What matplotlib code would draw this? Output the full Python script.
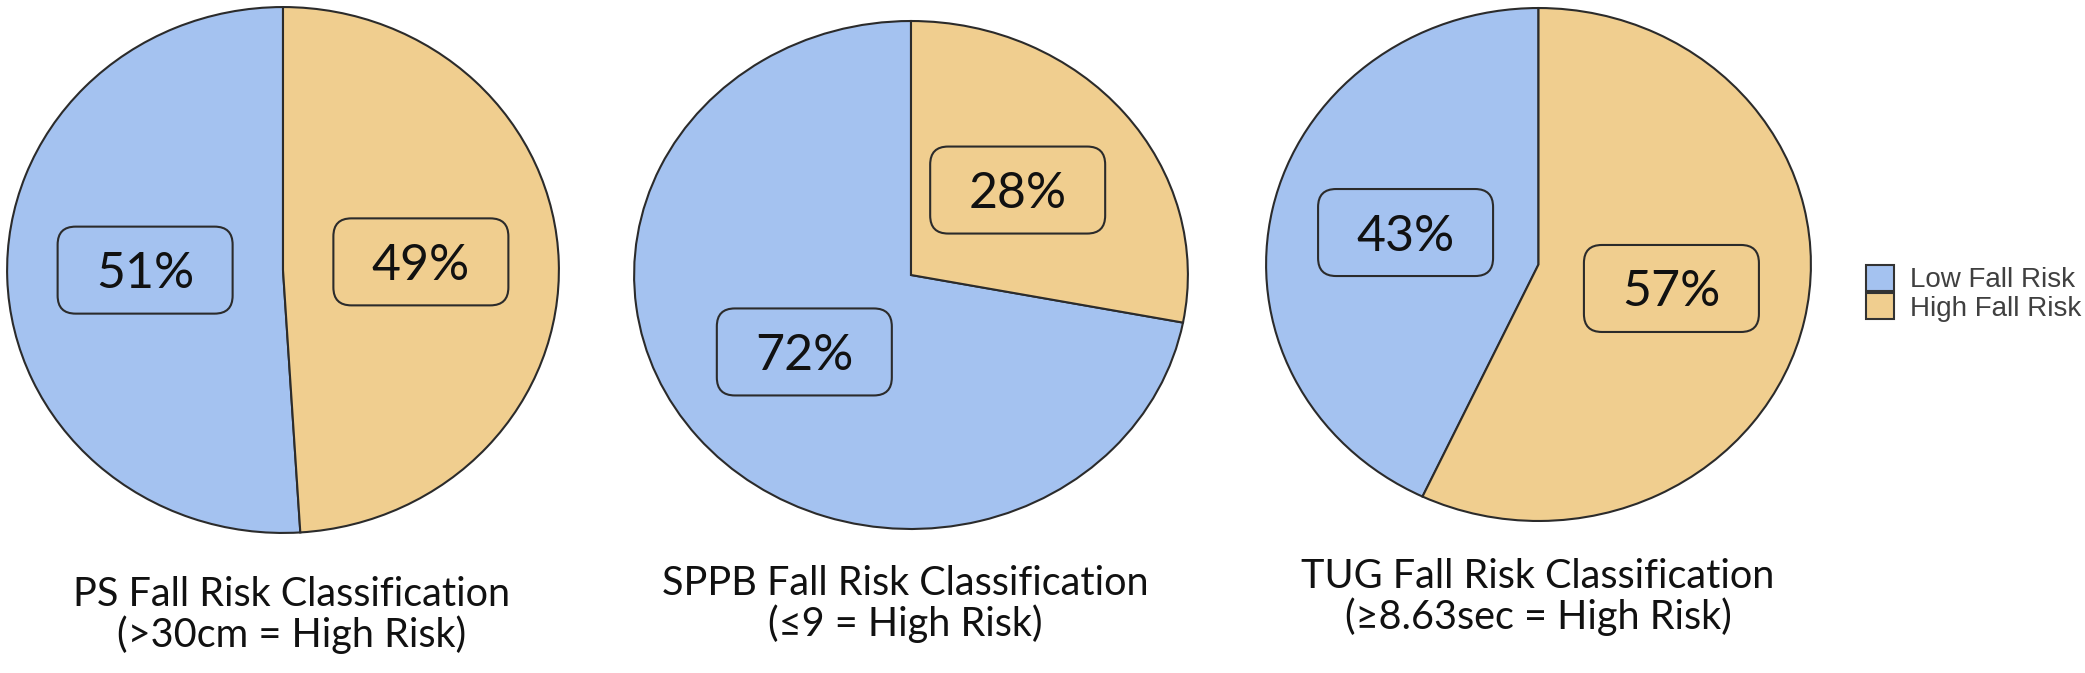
import matplotlib
matplotlib.use('Agg')
import matplotlib.pyplot as plt
from matplotlib.patches import FancyBboxPatch, Patch
from matplotlib.transforms import IdentityTransform

tests = ['PS', 'SPPB', 'TUG']
criteria = ['>30cm', '≤9', '≥8.63sec']
low_risk = [51, 72, 43]
high_risk = [49, 28, 57]
legend_labels = ['Low Fall Risk', 'High Fall Risk']

colors = ['#A4C2F0', '#F0CE8F']
edge = '#2b2b2b'
W, H = 2085, 673
fig = plt.figure(figsize=(W / 100, H / 100), dpi=100)

# pie bounding boxes in pixels (x0, y0, x1, y1), y measured from top
boxes = [(6, 6, 560, 534), (633, 20, 1189, 530), (1265, 7, 1812, 522)]
title_pos = [(292, 615), (905, 604), (1538, 597)]
fam = ['Lato', 'DejaVu Sans']

for i in range(3):
    x0, y0, x1, y1 = boxes[i]
    ax = fig.add_axes([x0 / W, 1 - y1 / H, (x1 - x0) / W, (y1 - y0) / H])
    wedges, texts, autotexts = ax.pie(
        [low_risk[i], high_risk[i]], colors=colors, startangle=90,
        autopct=lambda p: f'{p:.0f}%', pctdistance=0.5,
        wedgeprops=dict(edgecolor=edge, linewidth=1.5),
        textprops=dict(fontsize=36, family=fam, color='#111111'))
    ax.set_aspect('auto')
    ax.set_xlim(-1.004, 1.004)
    ax.set_ylim(-1.004, 1.004)
    ax.axis('off')
    for at in autotexts:
        px, py = ax.transData.transform(at.get_position())
        box = FancyBboxPatch((px - 87.5, py - 43.5 + 4), 175, 87,
                             boxstyle='round,pad=0,rounding_size=18',
                             transform=IdentityTransform(),
                             fc='none', ec=edge, lw=1.5)
        fig.add_artist(box)

    tx, ty = title_pos[i]
    fig.text(tx / W, 1 - ty / H,
             f'{tests[i]} Fall Risk Classification\n({criteria[i]} = High Risk)',
             ha='center', va='center', fontsize=28.5, family=fam,
             linespacing=1.1, color='#111111')

handles = [Patch(fc=c, ec='#333333', lw=1.5) for c in colors]
fig.legend(handles, legend_labels, loc='upper left',
           bbox_to_anchor=(1866 / W, 1 - 265 / H), frameon=False,
           prop=dict(family='Liberation Sans', size=20), labelcolor='#404040',
           handlelength=1.02, handleheight=1.06, labelspacing=0,
           handletextpad=0.55, borderpad=0, borderaxespad=0)

fig.savefig('out.png', dpi=100)
